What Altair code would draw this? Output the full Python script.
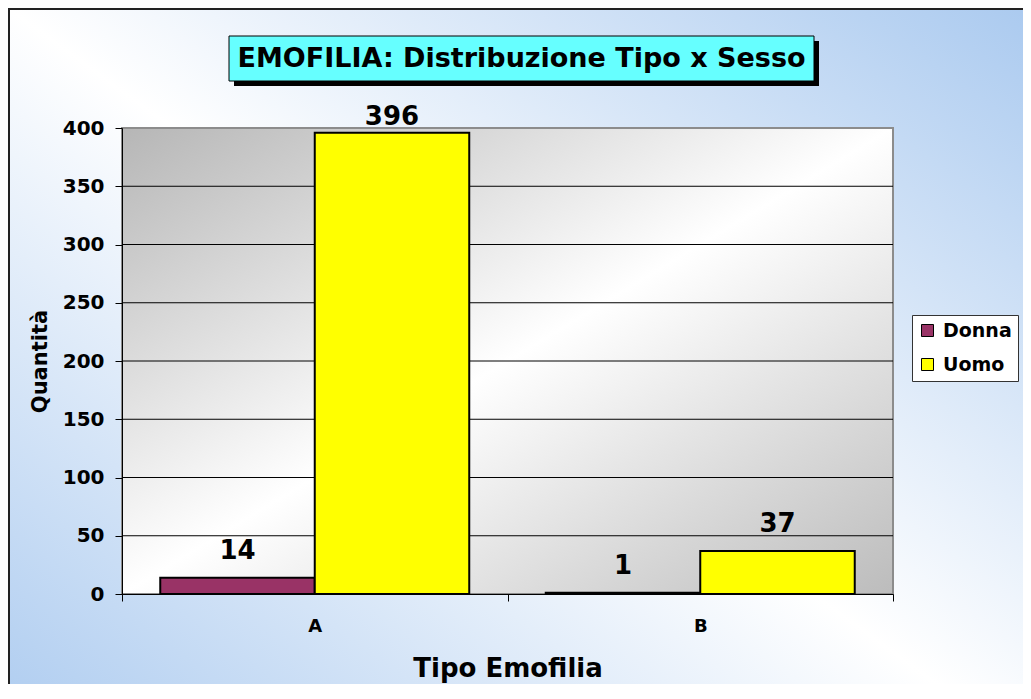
import altair as alt
import pandas as pd

# ---- data ----
tipo = ["A", "B"]
sesso = ["Donna", "Uomo"]
donna = [14, 1]
uomo = [396, 37]
y_ticks = [0, 50, 100, 150, 200, 250, 300, 350, 400]
grid_vals = [50, 100, 150, 200, 250, 300, 350]
colors = ["#993366", "#ffff00"]
title_text = "EMOFILIA: Distribuzione Tipo x Sesso"

rows = []
for i, t in enumerate(tipo):
    rows.append({"Tipo": t, "Sesso": "Donna", "val": donna[i]})
    rows.append({"Tipo": t, "Sesso": "Uomo", "val": uomo[i]})
df = pd.DataFrame(rows)
grid_df = pd.DataFrame({"val": grid_vals})

FONT = "DejaVu Sans"
W, H = 771, 466

yscale = alt.Scale(domain=[0, 400], nice=False, zero=True)
xscale = alt.Scale(paddingInner=0, paddingOuter=0)
offscale = alt.Scale(paddingInner=0, paddingOuter=0.2476)

yaxis = alt.Axis(
    title="Quantità", values=y_ticks, grid=False, zindex=1,
    domainColor="black", tickColor="black", tickSize=7,
    labelFont=FONT, labelFontSize=20, labelFontWeight="bold", labelColor="black",
    labelPadding=11, titleFont=FONT, titleFontSize=21, titleFontWeight="bold",
    titleColor="black", titlePadding=12,
)
xaxis = alt.Axis(
    title="Tipo Emofilia", labelAngle=0, tickBand="extent", grid=False, zindex=1,
    domainColor="black", tickColor="black", tickSize=7,
    labelFont=FONT, labelFontSize=18, labelFontWeight="bold", labelColor="black",
    labelPadding=16, titleFont=FONT, titleFontSize=26, titleFontWeight="bold",
    titleColor="black", titlePadding=20,
)

one = alt.Data(values=[{}])

page_grad = alt.LinearGradient(
    gradient="linear", x1=1, y1=0, x2=0, y2=1,
    stops=[alt.GradientStop(color="#a9c9ef", offset=0),
           alt.GradientStop(color="#ffffff", offset=0.5),
           alt.GradientStop(color="#a9c9ef", offset=1)],
)
plot_grad = alt.LinearGradient(
    gradient="linear", x1=0, y1=0, x2=1, y2=1,
    stops=[alt.GradientStop(color="#b6b6b6", offset=0),
           alt.GradientStop(color="#ffffff", offset=0.5),
           alt.GradientStop(color="#bcbcbc", offset=1)],
)

bg = alt.Chart(one).mark_rect(fill=page_grad, stroke="#222222", strokeWidth=2).encode(
    x=alt.value(-113), x2=alt.value(930), y=alt.value(-119), y2=alt.value(640)
)
shadow = alt.Chart(one).mark_rect(fill="black").encode(
    x=alt.value(112), x2=alt.value(697), y=alt.value(-87), y2=alt.value(-42)
)
tbox = alt.Chart(one).mark_rect(fill="#66ffff", stroke="black", strokeWidth=1).encode(
    x=alt.value(107), x2=alt.value(692), y=alt.value(-92), y2=alt.value(-47)
)
ttext = alt.Chart(one).mark_text(
    text=title_text, font=FONT, fontSize=27, fontWeight="bold", color="black",
    align="center", baseline="middle"
).encode(x=alt.value(399.5), y=alt.value(-69))

plotbg = alt.Chart(one).mark_rect(fill=plot_grad, stroke="#8c8c8c", strokeWidth=2).encode(
    x=alt.value(0), x2=alt.value(W), y=alt.value(0), y2=alt.value(H)
)
grid = alt.Chart(grid_df).mark_rule(color="black", strokeWidth=1).encode(
    y=alt.Y("val:Q", scale=yscale, axis=yaxis), x=alt.value(0), x2=alt.value(W)
)

bars = alt.Chart(df).mark_bar(stroke="black", strokeWidth=2).encode(
    x=alt.X("Tipo:N", scale=xscale, axis=xaxis, sort=tipo),
    xOffset=alt.XOffset("Sesso:N", sort=sesso, scale=offscale),
    y=alt.Y("val:Q", scale=yscale, axis=yaxis),
    color=alt.Color(
        "Sesso:N", scale=alt.Scale(domain=sesso, range=colors),
        legend=alt.Legend(
            title=None, orient="none", legendX=790, legendY=187,
            fillColor="white", strokeColor="#333333", padding=6,
            symbolType="square", symbolSize=144, symbolStrokeColor="black",
            symbolStrokeWidth=1, labelFont=FONT, labelFontSize=19,
            labelFontWeight="bold", labelColor="black", rowPadding=14,
            labelOffset=6,
        ),
    ),
)

labels = alt.Chart(df).transform_calculate(
    ly="min(datum.val + 16, 403)"
).mark_text(
    font=FONT, fontSize=26, fontWeight="bold", color="black",
    align="center", baseline="alphabetic"
).encode(
    x=alt.X("Tipo:N", scale=xscale, axis=xaxis, sort=tipo),
    xOffset=alt.XOffset("Sesso:N", sort=sesso, scale=offscale),
    y=alt.Y("ly:Q", scale=yscale, axis=yaxis),
    text=alt.Text("val:Q"),
)

chart = alt.layer(bg, shadow, tbox, ttext, plotbg, grid, bars, labels).properties(
    width=W, height=H,
    autosize=alt.AutoSizeParams(type="none"),
    padding={"left": 114, "top": 120, "right": 130, "bottom": 90},
).configure_view(stroke=None).configure(background="white")

chart.save("out.html", embed_options={"renderer": "svg", "actions": False})
